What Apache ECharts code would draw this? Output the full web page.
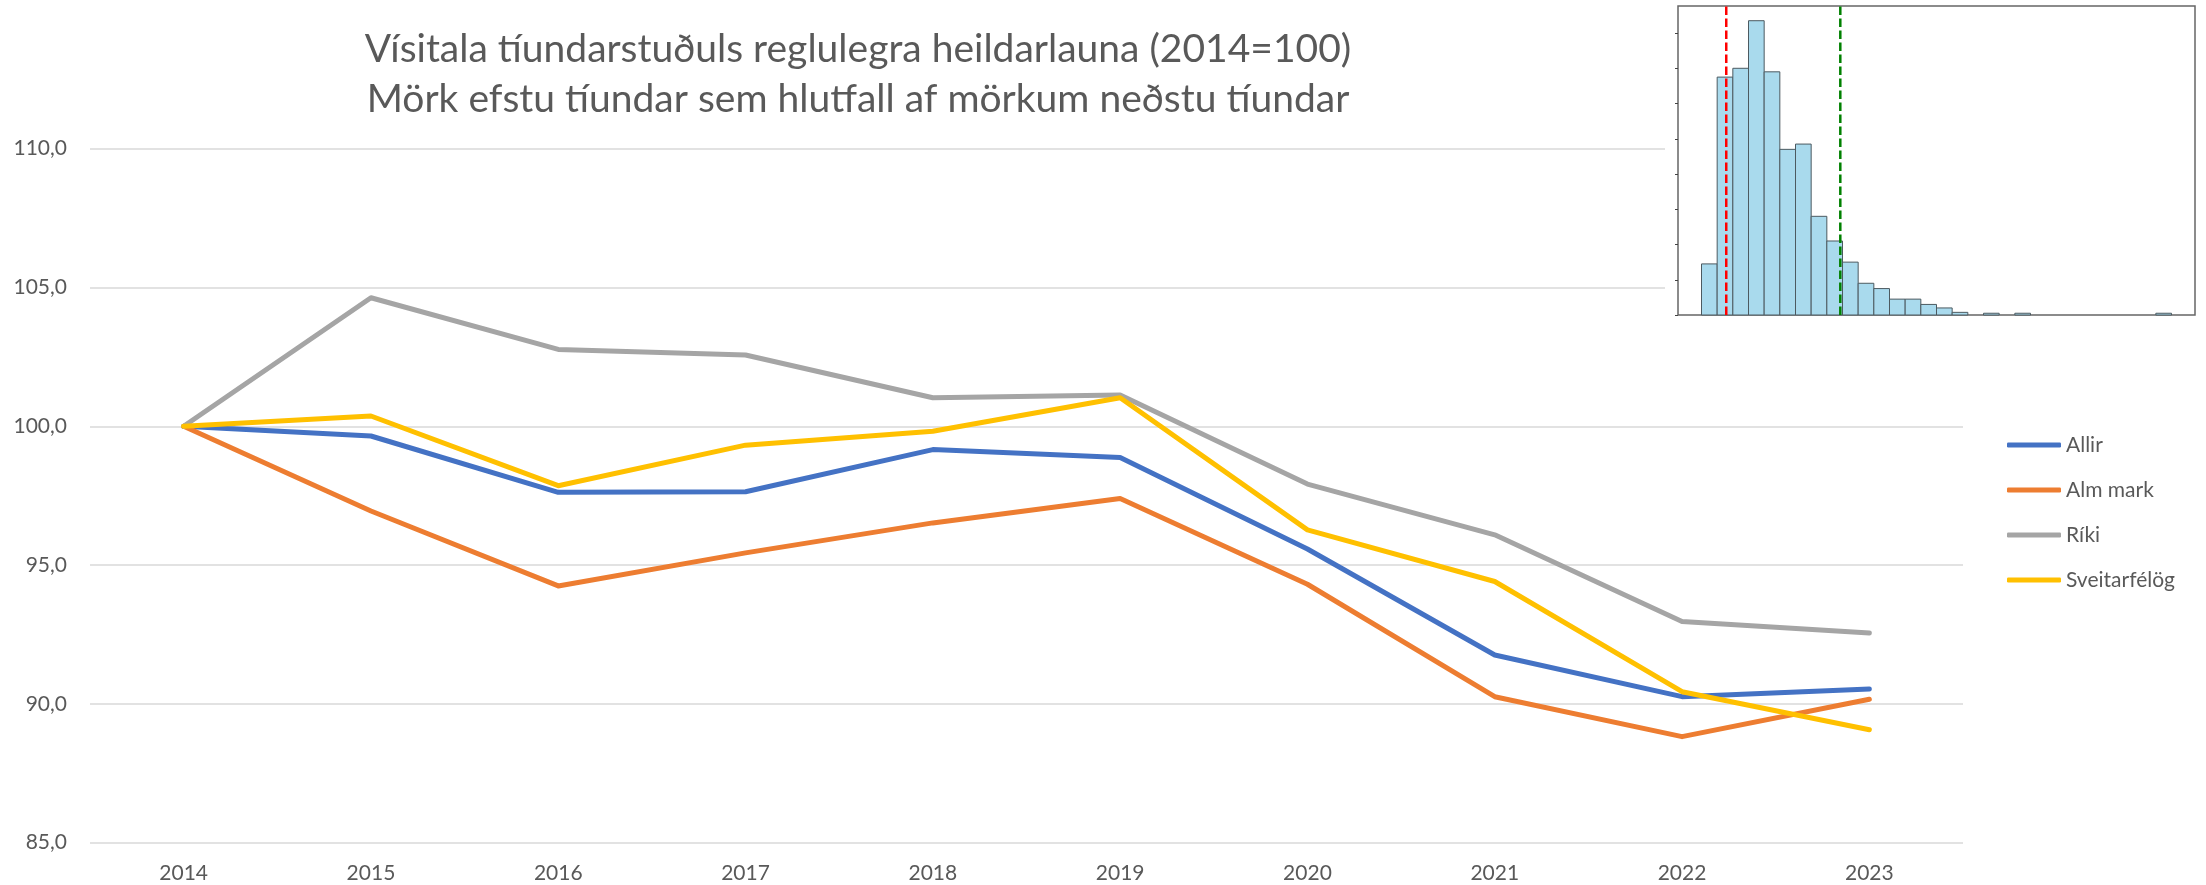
<!DOCTYPE html>
<html>
<head>
<meta charset="utf-8">
<title>Vísitala tíundarstuðuls</title>
<script src="https://cdn.jsdelivr.net/npm/echarts@6/dist/echarts.min.js"></script>
<style>
  html, body { margin: 0; padding: 0; background: #fff; }
  #chart { width: 2206px; height: 885px; }
</style>
</head>
<body>
<div id="chart"></div>
<script>
// main chart data
const years = ["2014", "2015", "2016", "2017", "2018", "2019", "2020", "2021", "2022", "2023"];
const allir = [100, 99.65, 97.62, 97.64, 99.16, 98.88, 95.58, 91.76, 90.26, 90.54];
const almMark = [100, 96.95, 94.25, 95.44, 96.52, 97.40, 94.31, 90.26, 88.82, 90.17];
const riki = [100, 104.63, 102.77, 102.57, 101.03, 101.13, 97.92, 96.09, 92.97, 92.55];
const sveitarfelog = [100, 100.37, 97.86, 99.32, 99.82, 101.03, 96.27, 94.41, 90.44, 89.07];
const titleLines = [
  "Vísitala tíundarstuðuls reglulegra heildarlauna (2014=100)",
  "Mörk efstu tíundar sem hlutfall af mörkum neðstu tíundar"
];

// inset histogram (bin index -> count)
const histCounts = [29, 135, 140, 167, 138, 94, 97, 56, 42, 30, 18, 15, 9, 9, 6, 4, 1.5, 0, 1, 0, 1, 0, 0, 0, 0, 0, 0, 0, 0, 1];
const histTicks = [0, 20, 40, 60, 80, 100, 120, 140, 160];
const redLineX = 1.58;
const greenLineX = 8.86;

const FONT = 'Lato, "Open Sans", sans-serif';
const TEXT = "#595959";

const chart = echarts.init(document.getElementById("chart"));

function lineSeries(name, data, color) {
  return {
    name,
    type: "line",
    data,
    xAxisIndex: 0,
    yAxisIndex: 0,
    symbol: "none",
    lineStyle: { width: 5, color, cap: "round", join: "round" },
    itemStyle: { color },
    z: 2,
  };
}

const histMax = Math.max(...histCounts) * 1.05;

function vLine(x, color) {
  return {
    type: "line",
    xAxisIndex: 1,
    yAxisIndex: 1,
    data: [[x, 0], [x, histMax]],
    symbol: "none",
    silent: true,
    lineStyle: { color, width: 2.5, type: [8.5, 3.5] },
    z: 4,
  };
}

const option = {
  animation: false,
  backgroundColor: "#fff",
  graphic: [
    // white background of the pasted inset picture
    { type: "rect", shape: { x: 1665, y: 0, width: 541, height: 325 }, style: { fill: "#fff" }, z: 1, silent: true },
    {
      type: "text", x: 858, y: 49,
      style: { text: titleLines[0], fill: TEXT, font: "39px " + FONT, textAlign: "center", textVerticalAlign: "middle" },
    },
    {
      type: "text", x: 858, y: 99,
      style: { text: titleLines[1], fill: TEXT, font: "39px " + FONT, textAlign: "center", textVerticalAlign: "middle" },
    },
  ],
  legend: {
    data: ["Allir", "Alm mark", "Ríki", "Sveitarfélög"],
    orient: "vertical",
    left: 2002,
    top: 429,
    itemWidth: 54,
    itemHeight: 5,
    itemGap: 23,
    icon: "roundRect",
    textStyle: { color: TEXT, fontSize: 21, fontFamily: FONT, lineHeight: 22 },
  },
  grid: [
    { left: 90, right: 243, top: 148.7, bottom: 42.3 },
    {
      left: 1678, top: 6, width: 517, height: 309,
      show: true, backgroundColor: "#fff", borderColor: "#666", borderWidth: 1.5, z: 2,
    },
  ],
  xAxis: [
    {
      type: "category",
      gridIndex: 0,
      data: years,
      boundaryGap: true,
      axisLine: { show: false },
      axisTick: { show: false },
      axisLabel: { color: TEXT, fontSize: 21, fontFamily: FONT, margin: 20 },
    },
    {
      type: "value",
      gridIndex: 1,
      min: -1.5,
      max: histCounts.length + 1.5,
      axisLine: { show: false, onZero: false },
      axisTick: { show: false },
      axisLabel: { show: false },
      splitLine: { show: false },
      z: 2,
    },
  ],
  yAxis: [
    {
      type: "value",
      gridIndex: 0,
      min: 85,
      max: 110,
      interval: 5,
      axisLine: { show: false },
      axisTick: { show: false },
      axisLabel: {
        color: TEXT, fontSize: 21, fontFamily: FONT, margin: 23,
        formatter: (v) => v.toFixed(1).replace(".", ","),
      },
      splitLine: { lineStyle: { color: "#d9d9d9", width: 1.5 } },
    },
    {
      type: "value",
      gridIndex: 1,
      position: "left",
      min: 0,
      max: histMax,
      axisLine: { show: false, onZero: false },
      axisTick: { show: true, length: 3, lineStyle: { color: "#444" }, customValues: histTicks },
      axisLabel: { show: false },
      splitLine: { show: false },
      z: 2,
    },
  ],
  series: [
    lineSeries("Allir", allir, "#4472c4"),
    lineSeries("Alm mark", almMark, "#ed7d31"),
    lineSeries("Ríki", riki, "#a5a5a5"),
    lineSeries("Sveitarfélög", sveitarfelog, "#ffc000"),
    {
      type: "custom",
      xAxisIndex: 1,
      yAxisIndex: 1,
      data: histCounts.map((c, i) => [i, c]),
      z: 3,
      silent: true,
      renderItem: function (params, api) {
        const bin = api.value(0);
        const count = api.value(1);
        if (!count) return null;
        const topLeft = api.coord([bin, count]);
        const bottomRight = api.coord([bin + 1, 0]);
        return {
          type: "rect",
          shape: {
            x: topLeft[0],
            y: topLeft[1],
            width: bottomRight[0] - topLeft[0],
            height: bottomRight[1] - topLeft[1],
          },
          style: { fill: "#a9daed", stroke: "#4c5a60", lineWidth: 1 },
        };
      },
    },
    vLine(redLineX, "#ff0000"),
    vLine(greenLineX, "#008000"),
  ],
};

chart.setOption(option);
window.addEventListener("resize", () => chart.resize());
</script>
</body>
</html>
